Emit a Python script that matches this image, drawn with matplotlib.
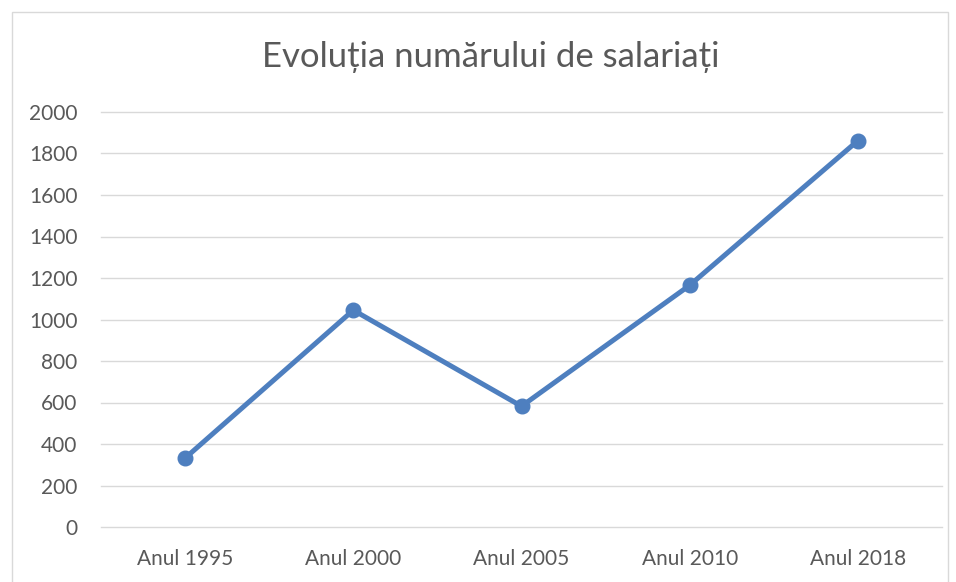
import matplotlib.pyplot as plt
from matplotlib.patches import Rectangle

# ----------------- data -----------------
categories = ["Anul 1995", "Anul 2000", "Anul 2005", "Anul 2010", "Anul 2018"]
salariati = [332, 1045, 582, 1165, 1862]
y_ticks = list(range(0, 2001, 200))

TITLE = "Evoluția numărului de salariați"
LINE_COLOR = "#4E7FBF"
GRID_COLOR = "#D9D9D9"
TEXT_COLOR = "#595959"

plt.rcParams["font.family"] = ["Lato", "DejaVu Sans"]

fig = plt.figure(figsize=(9.56, 5.82), dpi=100)
W, H = 956, 582

# chart frame (light grey border, like an Excel chart area)
fig.patches.append(Rectangle((12 / W, -0.01), (948 - 12) / W, (H - 12) / H + 0.01,
                             transform=fig.transFigure, fill=False,
                             edgecolor="#D9D9D9", lw=1.0))

ax = fig.add_axes([101 / W, 55 / H, (942 - 101) / W, (527 - 112) / H])

x = list(range(len(categories)))
ax.plot(x, salariati, color=LINE_COLOR, lw=3.6, marker="o", ms=10.5,
        solid_capstyle="round", zorder=3)

ax.set_xlim(-0.5, len(categories) - 0.5)
ax.set_ylim(0, 2000)
ax.set_yticks(y_ticks)
ax.set_xticks(x)
ax.set_xticklabels(categories)

# horizontal gridlines, including the one at 0 (not clipped)
for v in y_ticks:
    ax.axhline(v, color=GRID_COLOR, lw=1.0, zorder=0, clip_on=False)
for s in ax.spines.values():
    s.set_visible(False)
ax.tick_params(axis="both", length=0, colors=TEXT_COLOR, labelsize=15)
ax.tick_params(axis="y", pad=17)
ax.tick_params(axis="x", pad=16)

fig.text(491 / W, 1 - 57 / H, TITLE, ha="center", va="center",
         fontsize=25, color=TEXT_COLOR)

fig.savefig("out.png", dpi=100)
